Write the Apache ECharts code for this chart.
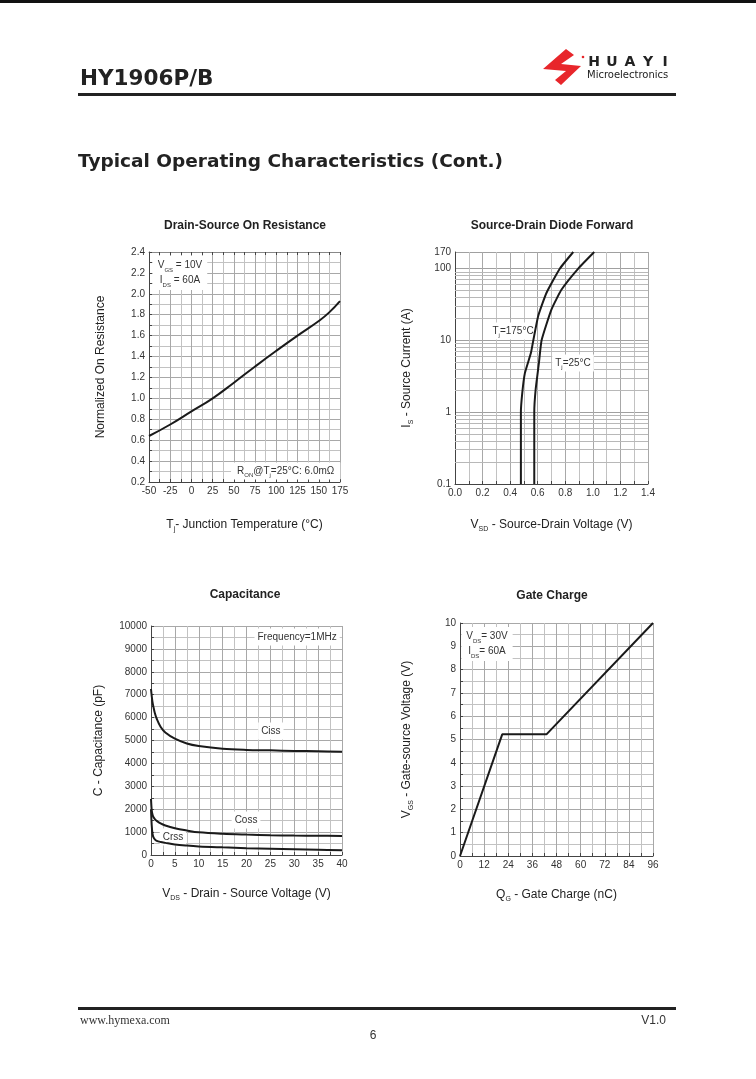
<!DOCTYPE html>
<html><head><meta charset="utf-8">
<script src="https://cdn.jsdelivr.net/npm/echarts@6/dist/echarts.min.js"></script>
<style>html,body{margin:0;padding:0;background:#fff}#c{width:756px;height:1079px}</style>
</head><body><div id="c"></div>
<script>
// ---------- Chart 1: Drain-Source On Resistance ----------
const tempTicks = [-50, -25, 0, 25, 50, 75, 100, 125, 150, 175];
const rdsTicks = [0.2, 0.4, 0.6, 0.8, 1.0, 1.2, 1.4, 1.6, 1.8, 2.0, 2.2, 2.4];
const rdsTemp = [-50, -25, 0, 25, 50, 75, 100, 125, 150, 162, 175];
const rdsNorm = [0.64, 0.75, 0.875, 1.0, 1.15, 1.305, 1.455, 1.6, 1.74, 1.82, 1.93];

// ---------- Chart 2: Source-Drain Diode Forward ----------
const vsdTicks = [0, 0.2, 0.4, 0.6, 0.8, 1.0, 1.2, 1.4];
const isTicks = [0.1, 1, 10, 100, 170];
const isMinorGrid = [0.2, 0.3, 0.4, 0.5, 0.6, 0.7, 0.8, 0.9, 2, 3, 4, 5, 6, 7, 8, 9, 20, 30, 40, 50, 60, 70, 80, 90];
const vsd175 = [0.478, 0.478, 0.488, 0.507, 0.551, 0.568, 0.604, 0.664, 0.761, 0.858];
const is175  = [0.1, 1, 1.86, 3.5, 6.7, 10, 22, 46, 100, 170];
const vsd25  = [0.575, 0.575, 0.585, 0.609, 0.628, 0.70, 0.773, 0.894, 1.01];
const is25   = [0.1, 1, 2.07, 4.9, 10, 27, 51, 100, 170];

// ---------- Chart 3: Capacitance ----------
const vdsTicks = [0, 5, 10, 15, 20, 25, 30, 35, 40];
const capTicks = [0, 1000, 2000, 3000, 4000, 5000, 6000, 7000, 8000, 9000, 10000];
const capV = [0, 0.15, 0.3, 0.5, 0.8, 1.2, 2, 3, 5, 7.5, 10, 15, 20, 25, 30, 35, 40];
const ciss = [7250, 6950, 6700, 6480, 6200, 5950, 5600, 5350, 5080, 4870, 4760, 4640, 4590, 4570, 4545, 4530, 4510];
const coss = [2450, 1950, 1780, 1660, 1570, 1490, 1380, 1290, 1170, 1070, 990, 925, 890, 865, 850, 840, 830];
const crss = [2000, 1300, 950, 780, 680, 620, 570, 530, 460, 410, 375, 335, 300, 272, 248, 225, 205];

// ---------- Chart 4: Gate Charge ----------
const qgTicks = [0, 12, 24, 36, 48, 60, 72, 84, 96];
const vgsTicks = [0, 1, 2, 3, 4, 5, 6, 7, 8, 9, 10];
const qg  = [0, 21, 43, 96];
const vgs = [0, 5.22, 5.22, 10];

const FONT = '"Liberation Sans", Arial, Helvetica, sans-serif';
const zip = (a, b) => a.map((v, i) => [v, b[i]]);

const nameRich = {
  m: { fontSize: 12, color: '#222', fontFamily: FONT, lineHeight: 16 },
  u: { fontSize: 7, color: '#222', fontFamily: FONT, lineHeight: 9, verticalAlign: 'bottom' }
};
const annRich = {
  m: { fontSize: 10, color: '#333', fontFamily: FONT, lineHeight: 15 },
  u: { fontSize: 6, color: '#333', fontFamily: FONT, lineHeight: 8, verticalAlign: 'bottom' }
};

function valAxis(gi, ticks, fmt, name, gap, extra) {
  return Object.assign({
    type: 'value', gridIndex: gi,
    min: ticks[0], max: ticks[ticks.length - 1], interval: ticks[1] - ticks[0],
    axisLine: { show: true, onZero: false, lineStyle: { color: '#444', width: 1 } },
    axisTick: { show: true, inside: true, length: 3, lineStyle: { color: '#444' } },
    minorTick: { show: true, splitNumber: 2, length: 3, lineStyle: { color: '#444' } },
    splitLine: { show: true, lineStyle: { color: '#a8a8a8', width: 1 } },
    minorSplitLine: { show: true, lineStyle: { color: '#c2c2c2', width: 1 } },
    axisLabel: { color: '#333', fontSize: 10, fontFamily: FONT, margin: 4, formatter: fmt },
    name: name, nameLocation: 'middle', nameGap: gap,
    nameTextStyle: { color: '#222', fontSize: 12, fontFamily: FONT, rich: nameRich }
  }, extra || {});
}

const f1 = v => Number(v).toFixed(1);
const f0 = v => String(Math.round(v));

function annSeries(xi, yi, items) {
  return {
    type: 'line', xAxisIndex: xi, yAxisIndex: yi, data: [], z: 2, silent: true,
    markPoint: {
      z: 2,
      symbol: 'rect', symbolSize: 1, silent: true,
      itemStyle: { color: 'rgba(0,0,0,0)' },
      label: { show: true, position: 'inside', backgroundColor: '#fff', padding: [1, 3],
               color: '#333', fontSize: 10, fontFamily: FONT, rich: annRich },
      data: items.map(it => ({ coord: it.c, label: { formatter: it.t, padding: it.p || [1, 3] } }))
    }
  };
}

function curve(xi, yi, data, smooth) {
  return {
    type: 'line', xAxisIndex: xi, yAxisIndex: yi, data: data, showSymbol: false, symbol: 'none',
    smooth: smooth, z: 6, lineStyle: { color: '#1a1a1a', width: 2 }, silent: true
  };
}

const logoLetters = ['H', 'U', 'A', 'Y', 'I'];
const logoX = [594, 612, 630, 648, 665];

const option = {
  animation: false,
  backgroundColor: '#fff',
  grid: [
    { left: 149, top: 252, width: 191, height: 230, show: true, backgroundColor: '#fff', borderWidth: 0 },
    { left: 455, top: 252, width: 193, height: 232, show: true, backgroundColor: '#fff', borderWidth: 0 },
    { left: 151, top: 626, width: 191, height: 229, show: true, backgroundColor: '#fff', borderWidth: 0 },
    { left: 460, top: 623, width: 193, height: 233, show: true, backgroundColor: '#fff', borderWidth: 0 }
  ],
  xAxis: [
    valAxis(0, tempTicks, f0, '{m|T}{u|j}{m|- Junction Temperature (°C)}', 35),
    valAxis(1, vsdTicks, f1, '{m|V}{u|SD}{m| - Source-Drain Voltage (V)}', 33),
    valAxis(2, vdsTicks, f0, '{m|V}{u|DS}{m| - Drain - Source Voltage (V)}', 31),
    valAxis(3, qgTicks, f0, '{m|Q}{u|G}{m| - Gate Charge (nC)}', 31),
    valAxis(0, tempTicks, f0, '', 0, { position: 'top', axisLabel: { show: false }, splitLine: { show: false }, minorSplitLine: { show: false }, axisLine: { show: true, lineStyle: { color: '#888' } } })
  ],
  yAxis: [
    valAxis(0, rdsTicks, f1, '{m|Normalized On Resistance}', 40),
    {
      type: 'log', logBase: 10, gridIndex: 1, min: isTicks[0], max: isTicks[isTicks.length - 1],
      axisLine: { show: true, onZero: false, lineStyle: { color: '#444' } },
      axisTick: { show: false },
      splitLine: { show: true, lineStyle: { color: '#a0a0a0' } },
      axisLabel: { color: '#333', fontSize: 10, fontFamily: FONT, margin: 4,
                   formatter: v => String(+Number(v).toPrecision(6)) },
      name: '{m|I}{u|S}{m| - Source Current (A)}', nameLocation: 'middle', nameGap: 40,
      nameTextStyle: { color: '#222', fontSize: 12, fontFamily: FONT, rich: nameRich }
    },
    valAxis(2, capTicks, f0, '{m|C - Capacitance (pF)}', 44),
    valAxis(3, vgsTicks, f0, '{m|V}{u|GS}{m| - Gate-source Voltage (V)}', 45)
  ],
  series: [
    // chart 1
    curve(0, 0, zip(rdsTemp, rdsNorm), true),
    annSeries(0, 0, [
      { c: [-13.5, 2.2], t: '{m|V}{u|GS}{m| = 10V}\n{m|I}{u|DS}{m| = 60A}', p: [2, 5] },
      { c: [111, 0.305], t: '{m|R}{u|ON}{m|@T}{u|j}{m|=25°C: 6.0mΩ}', p: [1, 6] }
    ]),
    // chart 2
    {
      type: 'line', xAxisIndex: 1, yAxisIndex: 1, data: [], z: 1, silent: true,
      markLine: {
        z: 1,
        silent: true, symbol: ['none', 'none'], label: { show: false },
        lineStyle: { color: '#b8b8b8', type: 'solid', width: 1 },
        data: isMinorGrid.map(v => ({ yAxis: v }))
      }
    },
    curve(1, 1, zip(vsd175, is175), 0.15),
    curve(1, 1, zip(vsd25, is25), 0.15),
    annSeries(1, 1, [
      { c: [0.421, 13.5], t: '{m|T}{u|j}{m|=175°C}' },
      { c: [0.856, 4.84], t: '{m|T}{u|j}{m|=25°C}' }
    ]),
    // chart 3
    curve(2, 2, zip(capV, ciss), 0.35),
    curve(2, 2, zip(capV, coss), 0.35),
    curve(2, 2, zip(capV, crss), 0.35),
    annSeries(2, 2, [
      { c: [30.6, 9520], t: '{m|Frequency=1MHz}' },
      { c: [25.1, 5415], t: '{m|Ciss}' },
      { c: [19.9, 1528], t: '{m|Coss}' },
      { c: [4.6, 790], t: '{m|Crss}' }
    ]),
    // chart 4
    curve(3, 3, zip(qg, vgs), false),
    annSeries(3, 3, [
      { c: [13.4, 9.1], t: '{m|V}{u|DS}{m|= 30V}\n{m|I}{u|DS}{m|= 60A}', p: [2, 5] }
    ])
  ],
  graphic: [
    { type: 'rect', shape: { x: 0, y: 0, width: 756, height: 3 }, style: { fill: '#111' } },
    { type: 'text', x: 80, y: 79, style: { text: 'HY1906P/B', fontSize: 21.5, fontWeight: 'bold', fontFamily: '"DejaVu Sans"', fill: '#222', verticalAlign: 'middle' } },
    { type: 'polygon', shape: { points: [[566, 49], [574, 55], [561, 64], [581, 66], [561, 85], [555, 80], [566, 71], [543, 69]] }, style: { fill: '#e8262b' } },
    { type: 'circle', shape: { cx: 583, cy: 57, r: 1.3 }, style: { fill: '#e8262b' } }
  ].concat(logoLetters.map((l, i) => ({ type: 'text', x: logoX[i], y: 62, style: { text: l, fontSize: 14, fontWeight: 'bold', fontFamily: '"DejaVu Sans"', fill: '#222', align: 'center', verticalAlign: 'middle' } }))).concat([
    { type: 'text', x: 587, y: 75, style: { text: 'Microelectronics', fontSize: 10, fontFamily: '"DejaVu Sans"', fill: '#222', verticalAlign: 'middle' } },
    { type: 'rect', shape: { x: 78, y: 93, width: 598, height: 3 }, style: { fill: '#222' } },
    { type: 'text', x: 78, y: 162, style: { text: 'Typical Operating Characteristics (Cont.)', fontSize: 18.5, fontWeight: 'bold', fontFamily: '"DejaVu Sans"', fill: '#222', verticalAlign: 'middle' } },
    { type: 'text', x: 245, y: 226, style: { text: 'Drain-Source On Resistance', fontSize: 12, fontWeight: 'bold', fontFamily: FONT, fill: '#222', align: 'center', verticalAlign: 'middle' } },
    { type: 'text', x: 552, y: 226, style: { text: 'Source-Drain Diode Forward', fontSize: 12, fontWeight: 'bold', fontFamily: FONT, fill: '#222', align: 'center', verticalAlign: 'middle' } },
    { type: 'text', x: 245, y: 595, style: { text: 'Capacitance', fontSize: 12, fontWeight: 'bold', fontFamily: FONT, fill: '#222', align: 'center', verticalAlign: 'middle' } },
    { type: 'text', x: 552, y: 596, style: { text: 'Gate Charge', fontSize: 12, fontWeight: 'bold', fontFamily: FONT, fill: '#222', align: 'center', verticalAlign: 'middle' } },
    { type: 'rect', shape: { x: 78, y: 1007, width: 598, height: 3 }, style: { fill: '#222' } },
    { type: 'text', x: 80, y: 1021, style: { text: 'www.hymexa.com', fontSize: 12, fontFamily: '"Liberation Serif", "DejaVu Serif", serif', fill: '#333', verticalAlign: 'middle' } },
    { type: 'text', x: 666, y: 1021, style: { text: 'V1.0', fontSize: 12, fontFamily: FONT, fill: '#333', align: 'right', verticalAlign: 'middle' } },
    { type: 'text', x: 373, y: 1036, style: { text: '6', fontSize: 12, fontFamily: FONT, fill: '#333', align: 'center', verticalAlign: 'middle' } }
  ])
};

const chart = echarts.init(document.getElementById('c'), null, { renderer: 'canvas' });
chart.setOption(option);
</script>
</body></html>
